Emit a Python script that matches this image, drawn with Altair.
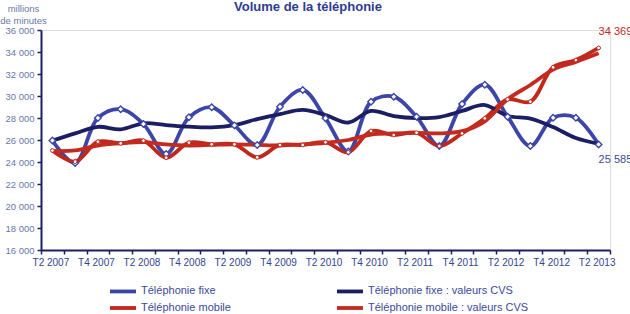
import json
import altair as alt
import pandas as pd

quarters = ["T2 2007", "T3 2007", "T4 2007", "T1 2008", "T2 2008", "T3 2008", "T4 2008",
            "T1 2009", "T2 2009", "T3 2009", "T4 2009", "T1 2010", "T2 2010", "T3 2010",
            "T4 2010", "T1 2011", "T2 2011", "T3 2011", "T4 2011", "T1 2012", "T2 2012",
            "T3 2012", "T4 2012", "T1 2013", "T2 2013"]
tick_labels = ["T2 2007", "T4 2007", "T2 2008", "T4 2008", "T2 2009", "T4 2009", "T2 2010",
               "T4 2010", "T2 2011", "T4 2011", "T2 2012", "T4 2012", "T2 2013"]

fixe = [25950, 23900, 28000, 28800, 27450, 24730, 28060, 28970, 27330, 25550, 29030, 30550,
        27970, 24950, 29480, 29940, 28120, 25450, 29270, 31030, 28120, 25450, 28030, 28030, 25585]
fixe_cvs = [25950, 26600, 27200, 26970, 27520, 27360, 27210, 27150, 27360, 27900, 28360, 28730,
            28270, 27590, 28640, 28180, 28000, 28090, 28640, 29180, 28180, 27950, 27180, 26180, 25650]
mobile = [25050, 24030, 25850, 25700, 25940, 24390, 25760, 25610, 25610, 24420, 25550, 25550,
          25800, 24880, 26820, 26450, 26660, 25450, 26600, 27970, 29700, 29480, 32610, 33270, 34369]
mobile_cvs = [25000, 25050, 25500, 25700, 25800, 25600, 25500, 25550, 25600, 25550, 25500, 25600,
              25750, 26000, 26500, 26600, 26650, 26600, 26800, 27700, 29700, 31000, 32400, 33100, 33880]

title_text = "Volume de la téléphonie"
# order: column-major legend fill -> fixe, mobile | fixe CVS, mobile CVS
series_names = ["Téléphonie fixe", "Téléphonie mobile",
                "Téléphonie fixe : valeurs CVS", "Téléphonie mobile : valeurs CVS"]
series_values = [fixe, mobile, fixe_cvs, mobile_cvs]
series_colors = ["#3C46A8", "#C0281C", "#1C1E64", "#C42A1E"]
series_widths = [3.8, 3.8, 1.8, 2.2]

rows = []
for name, vals in zip(series_names, series_values):
    for i, (q, v) in enumerate(zip(quarters, vals)):
        rows.append({"q": q, "i": i, "value": v, "series": name})
df = pd.DataFrame(rows)

FONT = "Liberation Sans"
NAVY = "#1C1E64"

label_expr = "indexof(" + json.dumps(tick_labels) + ", datum.value) >= 0 ? datum.value : ''"

x_enc = alt.X("q:N", sort=quarters,
              scale=alt.Scale(type="band", paddingInner=0, paddingOuter=0),
              axis=alt.Axis(title=None, tickBand="extent", labelExpr=label_expr, labelAngle=0,
                            labelFontSize=10, labelColor="#34458F", labelPadding=3,
                            labelOffset=-2, labelFont=FONT, domainColor=NAVY, domainWidth=2,
                            tickColor=NAVY, tickWidth=1.5, tickSize=4, grid=False))
y_enc = alt.Y("value:Q",
              scale=alt.Scale(domain=[16000, 36000], nice=False, zero=False),
              axis=alt.Axis(values=list(range(16000, 36001, 2000)),
                            labelExpr="replace(format(datum.value, ','), ',', ' ')",
                            labelFontSize=9.5, labelColor="#6A78A8", labelFont=FONT,
                            labelPadding=3, domainColor=NAVY, domainWidth=2,
                            tickColor=NAVY, tickWidth=1.5, tickSize=4, grid=False,
                            title=["millions", "de minutes"], titleAngle=0,
                            titleAlign="center", titleBaseline="top", titleX=-18,
                            titleY=-27, titleFontSize=9.5, titleFontWeight="normal",
                            titleColor="#6A78A8", titleFont=FONT, titleLineHeight=12))

legend = alt.Legend(title=None, orient="none", legendX=73.5, legendY=252.5,
                    columns=2, gridAlign="each", columnPadding=97,
                    rowPadding=-3, padding=0, symbolType="M-2,0H2", symbolSize=169,
                    labelOffset=9.5, labelFontSize=11, labelLimit=400,
                    labelColor="#3A4A9A", labelFont=FONT)

lines = alt.Chart(df).mark_line(interpolate="catmull-rom").encode(
    x=x_enc, y=y_enc,
    color=alt.Color("series:N", sort=series_names,
                    scale=alt.Scale(domain=series_names, range=series_colors),
                    legend=legend),
    strokeWidth=alt.StrokeWidth("series:N", sort=series_names,
                                scale=alt.Scale(domain=series_names, range=series_widths),
                                legend=legend),
    order=alt.Order("i:Q"),
)

fixe_pts = alt.Chart(df).transform_filter(
    alt.datum.series == series_names[0]
).mark_point(shape="diamond", filled=True, fill="white", stroke=series_colors[0],
             strokeWidth=1.4, size=42, opacity=1).encode(x=x_enc, y=y_enc)

mobile_pts = alt.Chart(df).transform_filter(
    alt.datum.series == series_names[1]
).mark_point(shape="circle", filled=True, fill="white", stroke=series_colors[1],
             strokeWidth=1, size=14, opacity=1).encode(x=x_enc, y=y_enc)

label_fixe = alt.Chart(df).transform_filter(
    (alt.datum.series == series_names[0]) & (alt.datum.i == len(quarters) - 1)
).transform_calculate(
    lab="replace(format(datum.value, ','), ',', ' ')"
).mark_text(align="left", baseline="middle", dx=0, dy=15, fontSize=11, font=FONT,
            color="#3C4C98").encode(x=x_enc, y=y_enc, text="lab:N")

label_mobile = alt.Chart(df).transform_filter(
    (alt.datum.series == series_names[1]) & (alt.datum.i == len(quarters) - 1)
).transform_calculate(
    lab="replace(format(datum.value, ','), ',', ' ')"
).mark_text(align="left", baseline="middle", dx=0, dy=-16, fontSize=11, font=FONT,
            color="#C0281C").encode(x=x_enc, y=y_enc, text="lab:N")

title = alt.Chart(pd.DataFrame({"t": [title_text]})).mark_text(
    align="center", baseline="alphabetic", fontSize=13, fontWeight="bold",
    font=FONT, color="#2E3C92"
).encode(x=alt.value(267), y=alt.value(-19), text="t:N")

chart = alt.layer(lines, fixe_pts, mobile_pts, label_fixe, label_mobile, title).properties(
    width=569, height=220,
    autosize=alt.AutoSizeParams(type="none"),
    padding={"left": 41, "top": 30, "right": 20, "bottom": 64},
).configure_view(stroke=None).configure(background="white")

chart.save("out.html", embed_options={"renderer": "svg", "actions": False})
